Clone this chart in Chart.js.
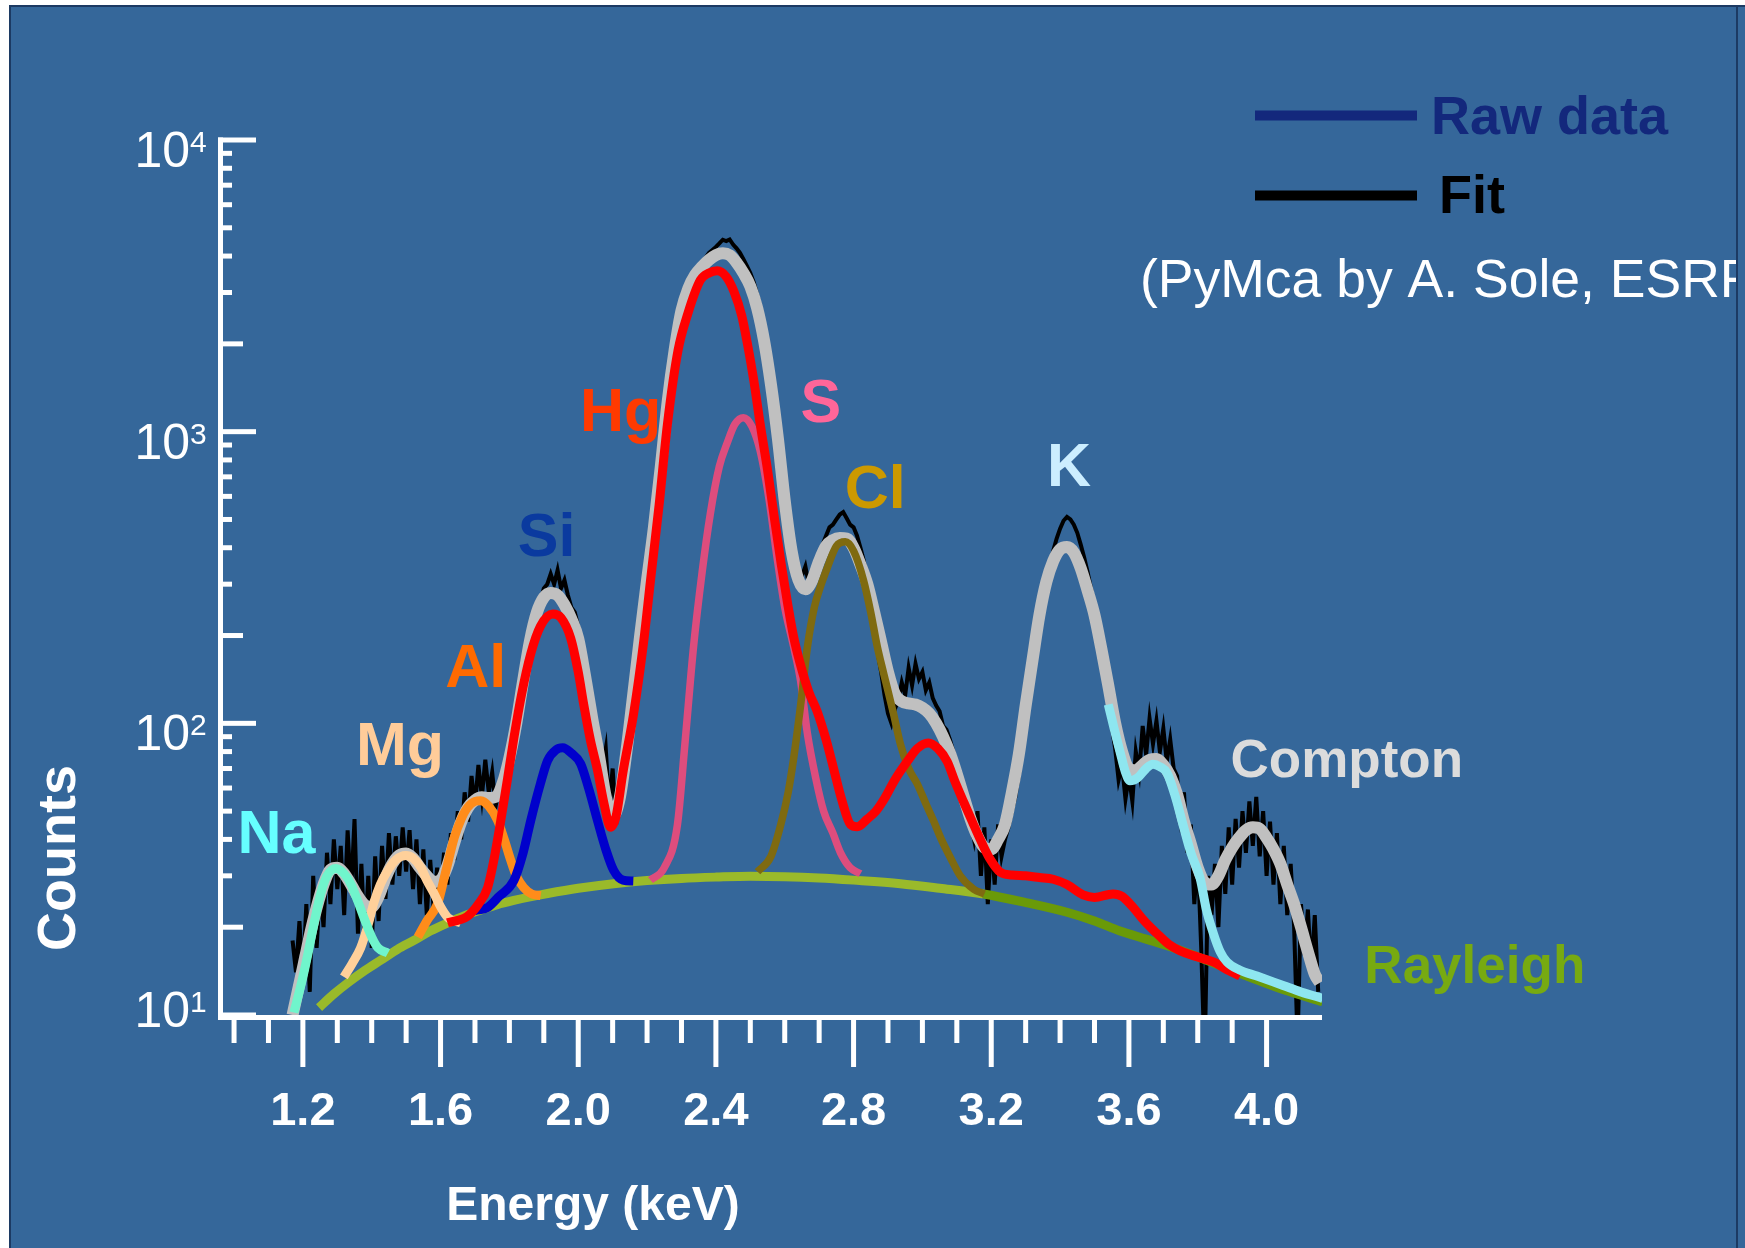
<!DOCTYPE html>
<html lang="en">
<head>
<meta charset="UTF-8">
<title>XRF spectrum fit</title>
<script src="https://cdn.jsdelivr.net/npm/chart.js"></script>
<style>
    body { margin: 0; background: #ffffff; }
    #frame {
        position: absolute; left: 9px; top: 5px; width: 1736px; height: 1243px;
        background: #35679a; border-left: 2px solid #1c3a63; border-top: 2px solid #1c3a63;
        box-sizing: border-box;
    }
    #edge { position: absolute; left: 1736px; top: 5px; width: 2px; height: 1243px; background: #1c3a63; }
    canvas { position: absolute; left: 0; top: 0; }
</style>
</head>
<body>
<div id="frame"></div>
<canvas id="spectrum" width="1745" height="1248"></canvas>
<div id="edge"></div>
<script>
// ---- data (energy in keV, counts) ----
const rawStart = 1.17;
const rawStep = 0.01;
const rawCounts = [
    18, 14, 21, 13, 24, 12, 30, 17, 28, 20,
    36, 24, 40, 27, 38, 22, 43, 26, 47, 19,
    33, 18, 30, 17, 35, 21, 38, 25, 42, 28,
    41, 30, 44, 31, 43, 27, 40, 24, 37, 22,
    34, 23, 32, 25, 36, 28, 42, 34, 50, 40,
    58, 46, 66, 52, 72, 56, 75, 58, 68, 52,
    60, 58, 66, 72, 82, 95, 112, 136, 160, 190,
    220, 250, 262, 290, 300, 325, 300, 335, 290, 310,
    275, 250, 240, 215, 190, 160, 138, 112, 98, 80,
    70, 82, 52, 70, 45, 62, 66, 78, 92, 115,
    140, 175, 220, 275, 340, 420, 530, 680, 890, 1130,
    1420, 1730, 2080, 2450, 2750, 3000, 3250, 3450, 3600, 3800,
    3950, 4100, 4200, 4300, 4420, 4550, 4500, 4560, 4380, 4250,
    4100, 3900, 3700, 3500, 3250, 2950, 2650, 2350, 2000, 1700,
    1400, 1120, 880, 680, 530, 430, 370, 330, 320, 345,
    300, 325, 355, 380, 410, 440, 470, 480, 500, 520,
    530, 505, 480, 470, 440, 400, 360, 300, 250, 210,
    175, 150, 125, 108, 100, 112, 120, 138, 125, 155,
    135, 160, 142, 150, 130, 138, 122, 115, 110, 98,
    95, 88, 80, 72, 66, 58, 52, 46, 40, 50,
    30, 44, 24, 40, 28, 45, 35, 40, 44, 50,
    56, 66, 80, 98, 120, 145, 178, 215, 255, 300,
    345, 390, 430, 465, 495, 510, 500, 480, 450, 410,
    370, 330, 290, 255, 215, 185, 150, 120, 98, 82,
    64, 72, 55, 66, 54, 80, 68, 98, 78, 104,
    85, 102, 80, 96, 74, 88, 70, 66, 48, 58,
    36, 45, 24, 35, 17, 7, 30, 22, 33, 20,
    38, 26, 44, 28, 47, 32, 50, 36, 54, 38,
    56, 35, 50, 30, 46, 28, 42, 24, 38, 22,
    33, 20, 8, 24, 16, 23, 14, 22, 12
];

const fitEnergy = [
    1.17, 1.20, 1.23, 1.26,
    1.28, 1.30, 1.32, 1.34, 1.36, 1.38, 1.40, 1.42, 1.44, 1.46,
    1.48, 1.50, 1.52, 1.54, 1.56, 1.58, 1.60, 1.62, 1.64, 1.66,
    1.68, 1.70, 1.72, 1.74, 1.76, 1.78, 1.80, 1.82, 1.84, 1.86,
    1.88, 1.90, 1.92, 1.94, 1.96, 1.98, 2.00, 2.02, 2.04, 2.06,
    2.08, 2.10, 2.12, 2.14, 2.16, 2.18, 2.20, 2.22, 2.24, 2.26,
    2.28, 2.30, 2.32, 2.34, 2.36, 2.38, 2.40, 2.42, 2.44, 2.46,
    2.48, 2.50, 2.52, 2.54, 2.56, 2.58, 2.60, 2.62, 2.64, 2.66,
    2.68, 2.70, 2.72, 2.74, 2.76, 2.78, 2.80, 2.82, 2.84, 2.86,
    2.88, 2.90, 2.92, 2.94, 2.96, 2.98, 3.00, 3.02, 3.04, 3.06,
    3.08, 3.10, 3.12, 3.14, 3.16, 3.18, 3.20, 3.22, 3.24, 3.26,
    3.28, 3.30, 3.32, 3.34, 3.36, 3.38, 3.40, 3.42, 3.44, 3.46,
    3.48, 3.50, 3.52, 3.54, 3.56, 3.58, 3.60, 3.62, 3.64, 3.66,
    3.68, 3.70, 3.72, 3.74, 3.76, 3.78, 3.80, 3.82, 3.84, 3.86,
    3.88, 3.90, 3.92, 3.94, 3.96, 3.98, 4.00, 4.02, 4.04, 4.06,
    4.08, 4.10, 4.12, 4.14, 4.155
];
const fitCounts = [
    10, 14.5, 21, 28,
    31.5, 32, 30.5, 28, 25.5, 23.8, 23.5, 25.5, 29.5, 33,
    35.3, 35.8, 34.5, 32, 30, 28.6, 29, 32.5, 39, 46,
    51.5, 54.5, 55.8, 55.5, 56, 62, 76, 100, 140, 192,
    240, 270, 280, 275, 255, 228, 195, 145, 105, 78,
    56, 48, 55, 80, 126, 200, 310, 470, 760, 1270,
    1900, 2600, 3100, 3450, 3680, 3880, 4030, 4090, 4030, 3800,
    3500, 3150, 2650, 2050, 1450, 950, 580, 390, 310, 288,
    310, 360, 405, 425, 432, 430, 400, 350, 300, 240,
    190, 150, 126, 119, 117, 116, 113, 108, 100, 90,
    79, 67, 56, 47, 41, 37.5, 37, 40, 45, 58,
    78, 115, 165, 235, 305, 360, 395, 402, 385, 340,
    285, 235, 180, 135, 100, 80, 70, 69, 72, 75,
    75.5, 72, 66, 57, 46, 38.5, 32, 28.5, 28, 30,
    34, 37.5, 40.5, 43, 44, 43.5, 40.5, 37, 33, 28,
    24, 20, 16.5, 13.8, 12.9
];

const naEnergy = [1.174, 1.20, 1.215, 1.23, 1.252, 1.27, 1.296, 1.32, 1.339, 1.36, 1.377, 1.40, 1.418, 1.447];
const naCounts = [10.2, 13.5, 16.3, 20, 26.1, 30, 31.8, 30.5, 28.2, 24.5, 21.6, 18.5, 17, 16.3];

const mgEnergy = [1.319, 1.343, 1.368, 1.39, 1.406, 1.425, 1.447, 1.47, 1.499, 1.52, 1.543, 1.56, 1.581, 1.60, 1.621, 1.659];
const mgCounts = [13.5, 15, 17, 20.5, 24.2, 28, 31.3, 34, 35.2, 34.5, 32, 29, 26.1, 23.5, 21.6, 20.7];

const alEnergy = [1.534, 1.56, 1.592, 1.615, 1.64, 1.66, 1.678, 1.70, 1.717, 1.74, 1.766, 1.785, 1.804, 1.82, 1.841, 1.865, 1.891];
const alCounts = [18.5, 21, 24.2, 31, 40.6, 47, 51.4, 54, 54.3, 52, 46.4, 40, 33.9, 30, 27.4, 26, 25.7];

const siEnergy = [1.70, 1.737, 1.77, 1.813, 1.84, 1.862, 1.89, 1.911, 1.935, 1.955, 1.98, 2.007, 2.03, 2.056, 2.08, 2.103, 2.13, 2.16];
const siCounts = [22.8, 23.4, 25.5, 28.9, 36, 46.4, 62, 74.5, 81, 82.4, 79, 72.7, 60, 46.4, 37, 31.3, 29, 28.8];

const hgEnergy = [
    1.62, 1.678, 1.71, 1.737, 1.755, 1.775,
    1.795, 1.813, 1.835, 1.862, 1.89, 1.926, 1.95, 1.978, 2.00, 2.016,
    2.035, 2.056, 2.075, 2.094, 2.11, 2.13, 2.161, 2.19, 2.21, 2.235,
    2.259, 2.29, 2.318, 2.355, 2.38, 2.404, 2.43, 2.452, 2.475, 2.492,
    2.51, 2.529, 2.55, 2.568, 2.59, 2.608, 2.625, 2.645, 2.67, 2.694,
    2.72, 2.742, 2.765, 2.791, 2.811, 2.84, 2.865, 2.887, 2.92, 2.956,
    2.985, 3.017, 3.045, 3.072, 3.095, 3.12, 3.145, 3.168, 3.195, 3.226,
    3.26, 3.30, 3.34, 3.38, 3.42, 3.467, 3.50, 3.554, 3.58, 3.612,
    3.645, 3.68, 3.715, 3.749, 3.80, 3.845, 3.885, 3.923
];
const hgCounts = [
    20.7, 21.8, 24, 27.4, 34, 46.4,
    65, 89, 125, 173, 215, 237, 230, 196, 150, 116,
    88, 69, 53, 44, 48, 68, 108, 190, 309, 560,
    1056, 1900, 2530, 3310, 3500, 3560, 3400, 3034, 2500, 1990,
    1500, 1056, 740, 525, 350, 259, 200, 160, 128, 110,
    88, 70, 55, 45, 44.2, 47, 50, 54.5, 64, 74,
    82, 85.7, 82, 74, 63, 53.7, 46, 40, 34.5, 30.9,
    30.2, 30, 29.6, 29.2, 28, 25.8, 25.3, 26, 25.5, 23.4,
    21, 19.1, 17.5, 16.6, 15.8, 15.2, 14.3, 13.6
];

const sEnergy = [2.21, 2.25, 2.288, 2.31, 2.335, 2.36, 2.384, 2.41, 2.433, 2.455, 2.48, 2.505, 2.529, 2.555, 2.578, 2.60, 2.626, 2.646, 2.666, 2.69, 2.713, 2.74, 2.762, 2.79, 2.82];
const sCounts = [29, 32, 44.7, 85, 183, 330, 525, 760, 916, 1060, 1117, 1040, 855, 580, 368, 250, 183, 140, 92, 65, 50, 42, 36, 32, 30.5];

const clEnergy = [2.521, 2.56, 2.588, 2.61, 2.626, 2.646, 2.666, 2.686, 2.704, 2.723, 2.75, 2.776, 2.80, 2.829, 2.85, 2.869, 2.887, 2.916, 2.936, 2.96, 2.985, 3.01, 3.032, 3.055, 3.081, 3.11, 3.149, 3.18];
const clCounts = [31, 35, 44.7, 58, 76, 115, 183, 250, 295, 340, 405, 419, 390, 309, 240, 183, 149, 108, 85, 70, 62, 53, 46.4, 40, 34.7, 30, 27, 26];

const comptonEnergy = [3.54, 3.557, 3.574, 3.59, 3.603, 3.625, 3.65, 3.67, 3.69, 3.711, 3.735, 3.757, 3.78, 3.807, 3.825, 3.845, 3.865, 3.885, 3.92, 3.972, 4.05, 4.10, 4.163];
const comptonCounts = [116, 96, 80, 68, 63.5, 65, 70, 72.4, 71, 67.5, 56, 45, 36, 29.4, 23, 19.1, 16.5, 15.2, 14.3, 13.6, 12.6, 12, 11.4];

const rayleighEnergy = [1.247, 1.29, 1.331, 1.38, 1.426, 1.475, 1.522, 1.57, 1.621, 1.67, 1.717, 1.765, 1.813, 1.86, 1.911, 2.0, 2.103, 2.2, 2.3, 2.4, 2.5, 2.6, 2.7, 2.8, 2.936, 3.05, 3.177, 3.3, 3.42, 3.5, 3.574, 3.65, 3.729, 3.85, 3.95, 4.05, 4.163];
const rayleighCounts = [10.6, 11.8, 12.9, 14.2, 15.4, 16.8, 18, 19.4, 20.7, 21.9, 22.9, 23.9, 24.7, 25.4, 26.1, 27.2, 28.2, 28.9, 29.4, 29.7, 29.9, 29.8, 29.5, 29, 28.2, 27.2, 26, 24.3, 22.5, 21, 19.4, 18.2, 17, 15, 13.5, 12.2, 11.1];

// tick labels
const xTickLabels = ['1.2', '1.6', '2.0', '2.4', '2.8', '3.2', '3.6', '4.0'];
const yTickExponents = ['1', '2', '3', '4'];

// peak names, anchored in data space (energy, counts) at their baseline centre
const peakNames = ['Na', 'Mg', 'Al', 'Si', 'Hg', 'S', 'Cl', 'K', 'Compton', 'Rayleigh'];
const peakNameEnergy = [1.123, 1.482, 1.702, 1.908, 2.123, 2.705, 2.863, 3.426, 4.233, 4.605];
const peakNameCounts = [35.8, 72.1, 133, 374, 1007, 1081, 546, 649, 65.6, 12.9];

// ---- styles ----
const FONT = '"Liberation Sans", Arial, sans-serif';
const peakNameColors = ['#66ffff', '#ffcc99', '#ff6a00', '#0a3a9f', '#ff3a00', '#ff6699', '#cc9900', '#cceeff', '#dcdcdc', '#77aa11'];
const peakNameSizes = [61, 61, 61, 61, 61, 61, 61, 61, 53, 53];

function points(xs, ys) {
    return xs.map((x, i) => ({ x: x, y: ys[i] }));
}

function curve(label, xs, ys, color, width, order) {
    return {
        label: label,
        data: points(xs, ys),
        showLine: true,
        borderColor: color,
        borderWidth: width,
        pointRadius: 0,
        fill: false,
        cubicInterpolationMode: 'monotone',
        order: order
    };
}

const rawEnergy = rawCounts.map((c, i) => Math.round((rawStart + i * rawStep) * 100) / 100);

const rawSet = curve('Raw data', rawEnergy, rawCounts, '#000000', 4, 20);
rawSet.cubicInterpolationMode = 'default';
rawSet.tension = 0;

const rayleighSet = curve('Rayleigh', rayleighEnergy, rayleighCounts, '#9aba2a', 9, 12);
rayleighSet.segment = {
    borderColor: c => (c.p0.parsed.x >= 3.12 ? '#6a9a08' : undefined)
};

const axesPlugin = {
    id: 'axesAndText',
    afterDraw(chart) {
        const { ctx, scales } = chart;
        const x = scales.x, y = scales.y;
        ctx.save();
        ctx.fillStyle = '#ffffff';

        // axis lines
        const yTop = y.getPixelForValue(10000);
        ctx.fillRect(218, yTop - 2.5, 5, 1020 - yTop + 2.5);
        ctx.fillRect(218, 1015, 1322 - 218, 5);

        // y ticks: decades long, 2x medium, others short
        for (let d = 10; d <= 10000; d *= 10) {
            const maxM = d === 10000 ? 1 : 9;
            for (let m = 1; m <= maxM; m++) {
                const py = y.getPixelForValue(m * d);
                const end = m === 1 ? 256 : (m === 2 ? 243 : 232);
                ctx.fillRect(218, py - 2.5, end - 218, 5);
            }
        }

        // x ticks every 0.1 keV, long ones under the labels
        for (let k = 10; k <= 40; k++) {
            const px = x.getPixelForValue(k / 10);
            const major = (k - 12) % 4 === 0;
            ctx.fillRect(px - 2.5, 1020, 5, major ? 47 : 23);
        }

        // x tick labels
        ctx.font = 'bold 47px ' + FONT;
        ctx.textAlign = 'center';
        ctx.textBaseline = 'alphabetic';
        xTickLabels.forEach(t => {
            ctx.fillText(t, x.getPixelForValue(parseFloat(t)), 1125);
        });

        // y tick labels 10^n
        yTickExponents.forEach(e => {
            const py = y.getPixelForValue(Math.pow(10, parseInt(e, 10)));
            const base = py + (e === '1' ? 12 : 27);
            ctx.font = '50px ' + FONT;
            ctx.textAlign = 'right';
            ctx.fillText('10', 190, base);
            ctx.font = '30px ' + FONT;
            ctx.textAlign = 'left';
            ctx.fillText(e, 190, base - 15);
        });

        // axis titles
        ctx.font = 'bold 48px ' + FONT;
        ctx.textAlign = 'center';
        ctx.fillText('Energy (keV)', 593, 1220);
        ctx.save();
        ctx.translate(75, 858);
        ctx.rotate(-Math.PI / 2);
        ctx.font = 'bold 54px ' + FONT;
        ctx.fillText('Counts', 0, 0);
        ctx.restore();

        // peak names
        ctx.textAlign = 'center';
        peakNames.forEach((name, i) => {
            ctx.font = 'bold ' + peakNameSizes[i] + 'px ' + FONT;
            ctx.fillStyle = peakNameColors[i];
            ctx.fillText(name, x.getPixelForValue(peakNameEnergy[i]), y.getPixelForValue(peakNameCounts[i]));
        });

        // legend
        ctx.fillStyle = '#13287c';
        ctx.fillRect(1255, 110.5, 162, 10);
        ctx.fillStyle = '#000000';
        ctx.fillRect(1255, 190.5, 162, 10);
        ctx.textAlign = 'left';
        ctx.font = 'bold 54px ' + FONT;
        ctx.fillStyle = '#13287c';
        ctx.fillText('Raw data', 1431, 134);
        ctx.fillStyle = '#000000';
        ctx.fillText('Fit', 1439, 213);

        // credit, cut by the frame edge
        ctx.beginPath();
        ctx.rect(0, 0, 1736, 1248);
        ctx.clip();
        ctx.fillStyle = '#ffffff';
        ctx.font = '53.5px ' + FONT;
        ctx.fillText('(PyMca by A. Sole, ESRF', 1140, 297);
        ctx.restore();
    }
};

new Chart(document.getElementById('spectrum').getContext('2d'), {
    type: 'scatter',
    data: {
        datasets: [
            rawSet,
            curve('Fit', fitEnergy, fitCounts, '#c0c0c0', 12, 18),
            rayleighSet,
            curve('Na', naEnergy, naCounts, '#70f5cc', 9, 8),
            curve('Mg', mgEnergy, mgCounts, '#ffd09a', 9, 8),
            curve('Al', alEnergy, alCounts, '#ff8c1a', 9, 8),
            curve('Si', siEnergy, siCounts, '#0000cc', 9, 7),
            curve('S', sEnergy, sCounts, '#dd4d7d', 7.5, 9),
            curve('Cl', clEnergy, clCounts, '#7f6a10', 7.5, 6),
            curve('Hg', hgEnergy, hgCounts, '#ff0000', 9, 4),
            curve('Compton', comptonEnergy, comptonCounts, '#8ee6f0', 9, 2)
        ]
    },
    options: {
        responsive: false,
        animation: false,
        layout: { padding: { left: 222, right: 1745 - 1322, top: 140, bottom: 1248 - 1015 } },
        plugins: {
            legend: { display: false },
            tooltip: { enabled: false }
        },
        scales: {
            x: { type: 'linear', min: 0.965, max: 4.161, display: false },
            y: { type: 'logarithmic', min: 10, max: 10000, display: false }
        }
    },
    plugins: [axesPlugin]
});
</script>
</body>
</html>
